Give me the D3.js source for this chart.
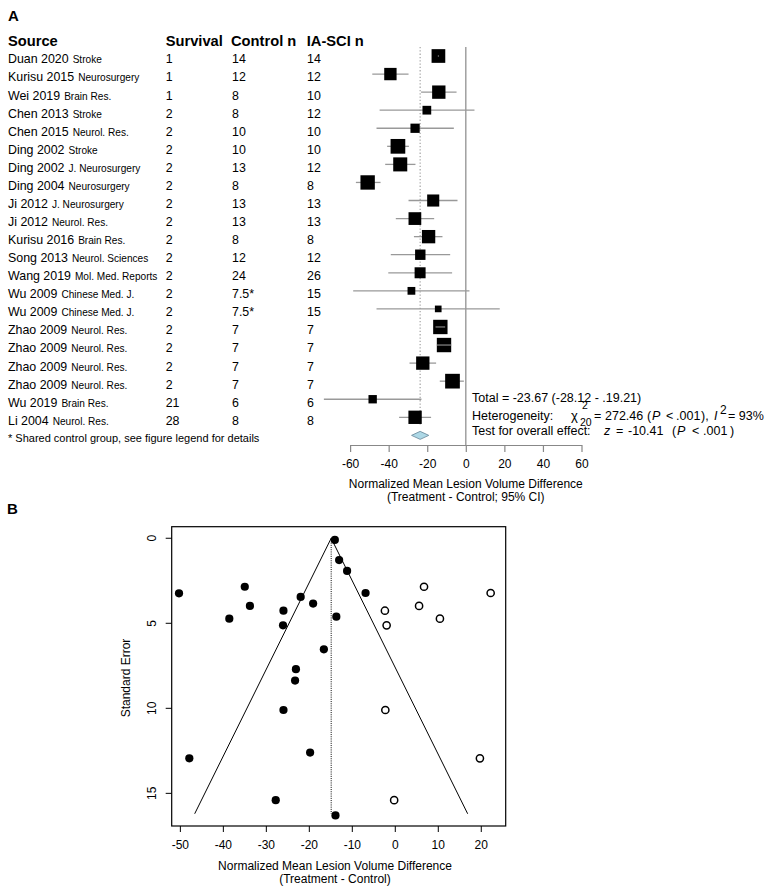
<!DOCTYPE html>
<html><head><meta charset="utf-8">
<script src="https://cdn.jsdelivr.net/npm/d3@7"></script>
<style>
body{margin:0;background:#fff}
svg{display:block}
text{font-family:"Liberation Sans",Arial,Helvetica,sans-serif;fill:#000}
</style>
</head><body>
<svg id="c" width="765" height="887"></svg>
<script>
// ---------- Panel A data ----------
const sources  = ["Duan 2020","Kurisu 2015","Wei 2019","Chen 2013","Chen 2015","Ding 2002","Ding 2002","Ding 2004","Ji 2012","Ji 2012","Kurisu 2016","Song 2013","Wang 2019","Wu 2009","Wu 2009","Zhao 2009","Zhao 2009","Zhao 2009","Zhao 2009","Wu 2019","Li 2004"];
const journals = ["Stroke","Neurosurgery","Brain Res.","Stroke","Neurol. Res.","Stroke","J. Neurosurgery","Neurosurgery","J. Neurosurgery","Neurol. Res.","Brain Res.","Neurol. Sciences","Mol. Med. Reports","Chinese Med. J.","Chinese Med. J.","Neurol. Res.","Neurol. Res.","Neurol. Res.","Neurol. Res.","Brain Res.","Neurol. Res."];
const survival = ["1","1","1","2","2","2","2","2","2","2","2","2","2","2","2","2","2","2","2","21","28"];
const controlN = ["14","12","8","8","10","10","13","8","13","13","8","12","24","7.5*","7.5*","7","7","7","7","6","8"];
const iaSciN   = ["14","12","10","12","10","10","12","8","13","13","8","12","26","15","15","7","7","7","7","6","8"];
const meanDiff = [-14.2,-39.1,-14.0,-20.2,-26.3,-35.2,-34.0,-50.9,-16.9,-26.4,-19.3,-23.6,-23.7,-28.2,-14.3,-13.2,-11.3,-22.3,-6.9,-48.3,-26.3];
const ciLower  = [-14.5,-48.5,-23.2,-44.7,-46.3,-40.8,-41.8,-57.0,-29.7,-36.3,-26.9,-38.9,-40.2,-58.4,-46.3,-15.7,-15.0,-29.2,-13.5,-73.6,-34.6];
const ciUpper  = [-13.9,-29.7,-4.8,4.5,-6.2,-29.5,-26.1,-44.2,-4.3,-16.4,-12.1,-8.1,-7.1,1.9,17.6,-10.7,-7.6,-15.4,-1.0,-23.0,-18.0];
const weights  = [5.9,4.8,5.6,2.4,2.7,6.8,6.2,6.5,4.6,5.1,5.6,3.4,3.8,1.9,1.4,6.5,6.5,5.6,6.8,2.2,5.6];
const totalEst = [-23.67,-28.12,-19.21];
const forestTicks = [-60,-40,-20,0,20,40,60];

// ---------- Panel B data ----------
const funnelEffect  = [-13.95,-12.95,-11.1,-50.2,-34.9,-21.9,-6.8,-33.7,-19.0,-25.9,-38.5,-26.0,-13.6,-16.5,-23.0,-23.2,-25.9,-47.8,-19.7,-27.7,-13.8];
const funnelSE      = [0.1,1.28,1.92,3.24,2.85,3.45,3.22,3.98,3.84,4.26,4.73,5.12,4.61,6.53,7.7,8.37,10.1,12.94,12.6,15.4,16.3];
const imputedEffect = [6.8,22.3,5.65,-2.3,10.5,-1.9,-2.2,19.8,-0.15];
const imputedSE     = [2.85,3.22,3.98,4.26,4.73,5.12,10.1,12.94,15.4];
const funnelCenter  = -14.8;
const funnelSEMax   = 16.2;
const funnelXTicks  = [-50,-40,-30,-20,-10,0,10,20];
const funnelYTicks  = [0,5,10,15];

const svg = d3.select("#c");
svg.append("rect").attr("width",765).attr("height",887).attr("fill","#fff");

// ================= Panel A =================
svg.append("text").attr("x",8).attr("y",20.5).attr("font-size",15).attr("font-weight","bold").text("A");

const fx = d3.scaleLinear().domain([-60,60]).range([350.1,581.5]);
const fy = d3.scaleLinear().domain([0,20]).range([56,417.3]);
const box = d3.scaleSqrt().domain([0,d3.max(weights)]).range([0,14.7]);

// header
const hdr = [["Source",8],["Survival",165.7],["Control n",231],["IA-SCI n",306.7]];
svg.append("g").selectAll("text").data(hdr).join("text")
  .attr("x",d=>d[1]).attr("y",46).attr("font-size",14.7).attr("font-weight","bold").text(d=>d[0]);

// table rows
const tg = svg.append("g");
sources.forEach((s,i)=>{
  const yb = fy(i)+7.4;
  const t = tg.append("text").attr("x",8).attr("y",yb).attr("font-size",12.4);
  t.append("tspan").text(s);
  t.append("tspan").attr("dx",4).attr("font-size",10.1).text(journals[i]);
  tg.append("text").attr("x",165.7).attr("y",yb).attr("font-size",12.4).text(survival[i]);
  tg.append("text").attr("x",232).attr("y",yb).attr("font-size",12.4).text(controlN[i]);
  tg.append("text").attr("x",307).attr("y",yb).attr("font-size",12.4).text(iaSciN[i]);
});
tg.append("text").attr("x",8).attr("y",441.5).attr("font-size",11)
  .text("* Shared control group, see figure legend for details");

// zero line & total dotted line
svg.append("line").attr("x1",fx(0)).attr("x2",fx(0)).attr("y1",47).attr("y2",445)
  .attr("stroke","#999").attr("stroke-width",1.4);
svg.append("line").attr("x1",fx(totalEst[0])).attr("x2",fx(totalEst[0])).attr("y1",47).attr("y2",425)
  .attr("stroke","#aaa").attr("stroke-width",1.3).attr("stroke-dasharray","1.3,2");

// CIs and boxes
const fg = svg.append("g");
meanDiff.forEach((m,i)=>{
  const y = fy(i), s = box(weights[i]);
  fg.append("line").attr("x1",fx(ciLower[i])).attr("x2",fx(ciUpper[i])).attr("y1",y).attr("y2",y)
    .attr("stroke","#999").attr("stroke-width",1.3);
  fg.append("rect").attr("x",fx(m)-s/2).attr("y",y-s/2).attr("width",s).attr("height",s).attr("fill","#000");
  const x1 = fx(ciLower[i]), x2 = fx(ciUpper[i]);
  if (x1 > fx(m)-s/2 && x2 < fx(m)+s/2) {
    fg.append("line").attr("x1",x1).attr("x2",x2).attr("y1",y).attr("y2",y)
      .attr("stroke","#fff").attr("stroke-width",0.8).attr("opacity",0.8);
  }
});

// diamond
const yd = fy(21);
svg.append("polygon")
  .attr("points",[[fx(totalEst[1]),yd],[fx(totalEst[0]),yd-4],[fx(totalEst[2]),yd],[fx(totalEst[0]),yd+4]].map(p=>p.join(",")).join(" "))
  .attr("fill","#add8e6").attr("stroke","#6f8fa0").attr("stroke-width",0.9);

// axis
const ax = svg.append("g").attr("transform","translate(0,445)")
  .call(d3.axisBottom(fx).tickValues(forestTicks).tickSize(7).tickSizeOuter(0).tickPadding(7));
ax.selectAll("path,line").attr("stroke","#888").attr("stroke-width",1.2);
ax.selectAll("text").attr("font-size",12).attr("font-family","Liberation Sans, Arial, sans-serif").attr("fill","#000")
  .text(d=>d<0?"-"+Math.abs(d):d);
svg.append("text").attr("x",fx(0)).attr("y",487.6).attr("text-anchor","middle").attr("font-size",12)
  .text("Normalized Mean Lesion Volume Difference");
svg.append("text").attr("x",fx(0)).attr("y",501).attr("text-anchor","middle").attr("font-size",12)
  .text("(Treatment - Control; 95% CI)");

// summary text
const st = svg.append("g");
const put = (x,y,txt,fs,ital)=>st.append("text").attr("x",x).attr("y",y).attr("font-size",fs)
  .attr("font-style",ital?"italic":"normal").text(txt);
put(472,401.5,"Total = -23.67 (-28.12 - .19.21)",12.5);
put(472,420,"Heterogeneity:",12.5);
put(571,420,"χ",13);
put(582,408.5,"2",10.5);
put(580,426,"20",10.5);
put(594,420,"=",12.5);
put(605,420,"272.46",12.5);
put(647,420,"(",12.5);
put(652,420,"P",12.5,true);
put(666,420,"<",12.5);
put(676,420,".001",12.5);
put(701,420,"),",12.5);
put(714,420,"I",12.5,true);
put(720,414,"2",12);
put(728,420,"= 93%",12.5);
put(472,435,"Test for overall effect:",12.5);
put(604,435,"z",12.5,true);
put(616,435,"=",12.5);
put(628,435,"-10.41",12.5);
put(672,435,"(",12.5);
put(677,435,"P",12.5,true);
put(692,435,"<",12.5);
put(703,435,".001",12.5);
put(730,435,")",12.5);

// ================= Panel B =================
svg.append("text").attr("x",7).attr("y",514).attr("font-size",15).attr("font-weight","bold").text("B");

const gx = d3.scaleLinear().domain([-51.9,25.8]).range([171.7,505.7]);
const gy = d3.scaleLinear().domain([-0.68,16.92]).range([526.7,826]);

// funnel lines
const fl = d3.line().x(d=>gx(d[0])).y(d=>gy(d[1]));
svg.append("path").attr("d",fl([[funnelCenter-1.96*funnelSEMax,funnelSEMax],[funnelCenter,0],[funnelCenter+1.96*funnelSEMax,funnelSEMax]]))
  .attr("fill","none").attr("stroke","#000").attr("stroke-width",1);
svg.append("line").attr("x1",gx(funnelCenter)).attr("x2",gx(funnelCenter)).attr("y1",gy(0)).attr("y2",gy(funnelSEMax))
  .attr("stroke","#000").attr("stroke-width",1).attr("stroke-dasharray","1,1.2");

// points
svg.append("g").selectAll("circle").data(funnelEffect).join("circle")
  .attr("cx",d=>gx(d)).attr("cy",(d,i)=>gy(funnelSE[i])).attr("r",4.1).attr("fill","#000");
svg.append("g").selectAll("circle").data(imputedEffect).join("circle")
  .attr("cx",d=>gx(d)).attr("cy",(d,i)=>gy(imputedSE[i])).attr("r",3.6)
  .attr("fill","#fff").attr("stroke","#000").attr("stroke-width",1.5);

// box
svg.append("rect").attr("x",171.7).attr("y",526.7).attr("width",505.7-171.7).attr("height",826-526.7)
  .attr("fill","none").attr("stroke","#000").attr("stroke-width",1.2);

// x axis
const bx = svg.append("g").attr("transform","translate(0,826)")
  .call(d3.axisBottom(gx).tickValues(funnelXTicks).tickSize(6).tickSizeOuter(0).tickPadding(8.5));
bx.select(".domain").remove();
bx.selectAll("line").attr("stroke","#000");
bx.selectAll("text").attr("font-size",12).attr("font-family","Liberation Sans, Arial, sans-serif").attr("fill","#000")
  .text(d=>d<0?"-"+Math.abs(d):d);

// y axis
const by = svg.append("g");
by.selectAll("line").data(funnelYTicks).join("line")
  .attr("x1",165.7).attr("x2",171.7).attr("y1",d=>gy(d)).attr("y2",d=>gy(d)).attr("stroke","#000");
by.selectAll("text").data(funnelYTicks).join("text")
  .attr("transform",d=>`translate(156,${gy(d)}) rotate(-90)`).attr("text-anchor","middle").attr("font-size",12).text(d=>d);

svg.append("text").attr("transform","translate(129.5,678) rotate(-90)").attr("text-anchor","middle").attr("font-size",12)
  .text("Standard Error");
svg.append("text").attr("x",335).attr("y",869.5).attr("text-anchor","middle").attr("font-size",12)
  .text("Normalized Mean Lesion Volume Difference");
svg.append("text").attr("x",335).attr("y",883).attr("text-anchor","middle").attr("font-size",12)
  .text("(Treatment - Control)");
</script>
</body></html>
